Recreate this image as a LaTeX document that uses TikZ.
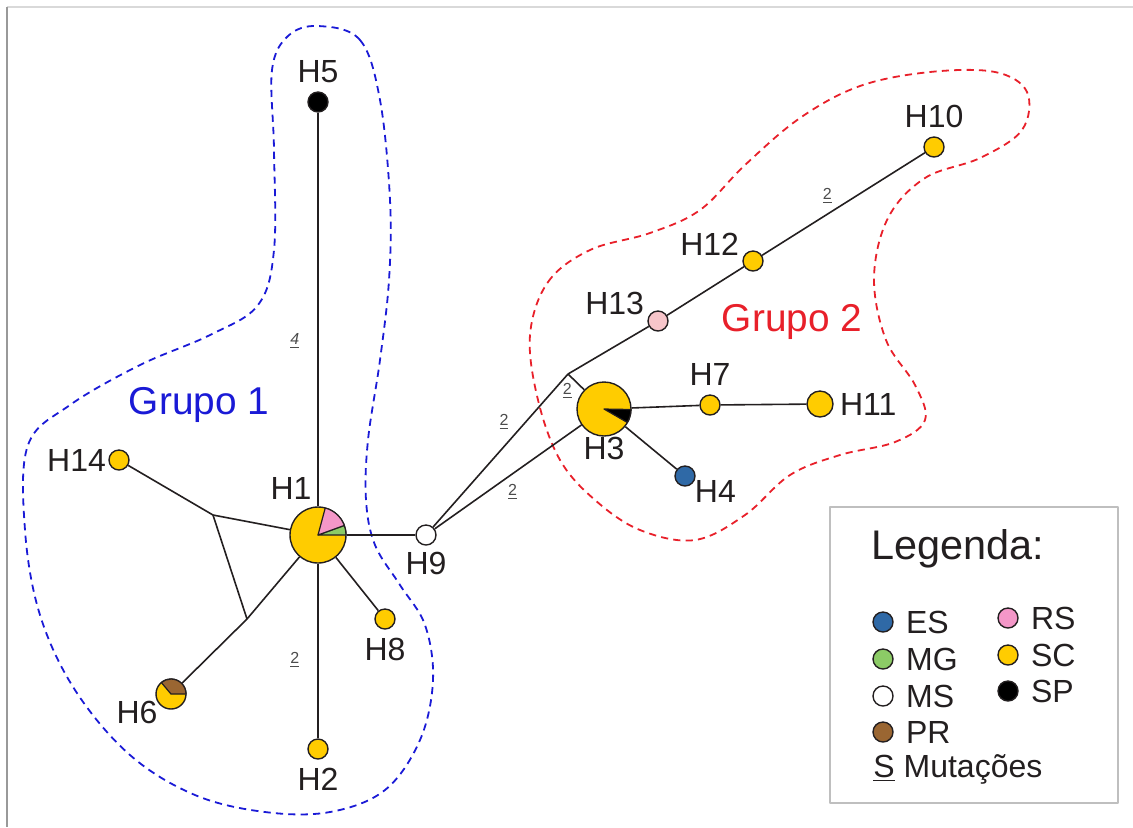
\documentclass[tikz,border=0pt]{standalone}
\usepackage{fontspec}
\setmainfont{Liberation Sans}
\usetikzlibrary{positioning}
\definecolor{colSC}{HTML}{FFCC00}
\definecolor{colES}{HTML}{2F69A6}
\definecolor{colMG}{HTML}{8CCB66}
\definecolor{colPR}{HTML}{9A6632}
\definecolor{colRS}{HTML}{F497C8}
\definecolor{colLRS}{HTML}{F7C5CA}
\definecolor{txt}{HTML}{231F20}
\definecolor{grpblue}{HTML}{1A1AD6}
\definecolor{grpred}{HTML}{E8202A}
\tikzset{
  hap/.style={circle,draw=txt,line width=0.7pt,inner sep=0pt,minimum size=10pt,fill=colSC},
  wedge/.style={draw=txt,line width=0.6pt},
  lbl/.style={font=\fontsize{16}{16}\selectfont,text=txt,inner sep=1pt},
  mut/.style={font=\fontsize{8}{8}\selectfont,text=black!70,inner sep=1pt},
  link/.style={line width=0.8pt,draw=txt},
  grp/.style={line width=0.9pt,dash pattern=on 3.6pt off 2.6pt},
}
\newcommand{\mutn}[1]{\underline{#1}}
\begin{document}
\begin{tikzpicture}[x=0.5pt,y=-0.5pt,line join=round]
\useasboundingbox (0,0) rectangle (1133,827);
% frame of the figure
\draw[black!15,line width=0.8pt] (7,7) -- (1133,7);
\draw[black!40,line width=0.8pt] (7,7) -- (7,827);
%%%%%%%%%%%%%%% groups
\draw[grp,grpblue] plot[smooth cycle,tension=0.6] coordinates {
  (318,26) (360,40) (380,100) (390,200) (389,280) (380,360) (368,440)
  (366,500) (375,545) (400,585) (425,625) (433,680) (420,740) (385,790)
  (330,812) (265,812) (195,795) (130,755) (75,690) (40,615) (25,530)
  (28,445) (70,405) (140,365) (210,335) (258,305) (274,250) (274,150)
  (272,70) (288,36)};
\draw[grp,grpred] plot[smooth cycle,tension=0.6] coordinates {
  (530,335) (548,282) (590,250) (650,233) (700,210) (745,165) (800,118)
  (860,86) (930,72) (995,72) (1027,92) (1022,130) (980,158) (925,178)
  (888,218) (874,278) (886,340) (915,385) (925,420) (895,442) (840,455)
  (790,475) (745,515) (695,540) (640,530) (595,500) (560,460) (538,400)};
\node[text=grpblue,font=\fontsize{19.4}{20}\selectfont] (g1) at (199,405) {Grupo 1};
\node[text=grpred,font=\fontsize{19.4}{20}\selectfont] (g2) at (792,322) {Grupo 2};
%%%%%%%%%%%%%%% haplotypes
\node[hap,minimum size=28pt] (H1) at (318,535) {};
\node[hap,minimum size=27pt] (H3) at (604,409) {};
\node[hap,minimum size=15pt] (H6) at (171,694) {};
\node[hap] (H2) at (318,749) {};
\node[hap,fill=colES] (H4) at (685,476) {};
\node[hap,fill=black] (H5) at (318,102) {};
\node[hap] (H7) at (710,405) {};
\node[hap] (H8) at (385,619) {};
\node[hap,fill=white] (H9) at (426,535) {};
\node[hap] (H10) at (934,147) {};
\node[hap,minimum size=13pt] (H11) at (820,404) {};
\node[hap] (H12) at (753,261) {};
\node[hap,fill=colLRS] (H13) at (658,321) {};
\node[hap] (H14) at (119,460) {};
\coordinate (J1) at (213,515);
\coordinate (J2) at (247,619);
\coordinate (J3) at (568,374);
%%%%%%%%%%%%%%% pies
\filldraw[wedge,fill=colMG] (H1.center) -- ++(0:14pt) arc[start angle=0,end angle=20,radius=14pt] -- cycle;
\filldraw[wedge,fill=colRS] (H1.center) -- ++(20:14pt) arc[start angle=20,end angle=75,radius=14pt] -- cycle;
\filldraw[wedge,fill=black] (H3.center) -- ++(-30:13.5pt) arc[start angle=-30,end angle=-1,radius=13.5pt] -- cycle;
\filldraw[wedge,fill=colPR] (H6.center) -- ++(0:7.5pt) arc[start angle=0,end angle=130,radius=7.5pt] -- cycle;
%%%%%%%%%%%%%%% links
\draw[link] (H1) -- node[mut,left=8pt,pos=0.42] (m1) {\mutn{\textit{4}}} (H5);
\draw[link] (H1) -- node[mut,left=8pt,pos=0.55] (m2) {\mutn{2}} (H2);
\draw[link] (H1) -- (H8);
\draw[link] (H1) -- (H9);
\draw[link] (H1) -- (J1);
\draw[link] (J1) -- (H14);
\draw[link] (J1) -- (J2);
\draw[link] (H1) -- (J2) -- (H6);
\draw[link] (H9) -- node[mut,above left=2pt,pos=0.6] (m3) {\mutn{2}} (J3);
\draw[link] (H9) -- node[mut,below=4pt,pos=0.53] (m4) {\mutn{2}} (H3);
\draw[link] (J3) -- node[mut,below left=0pt,pos=0.4] (m5) {\mutn{2}} (H3);
\draw[link] (J3) -- (H13);
\draw[link] (H13) -- (H12);
\draw[link] (H12) -- node[mut,above=4pt,pos=0.4] (m6) {\mutn{2}} (H10);
\draw[link] (H3) -- (H7);
\draw[link] (H7) -- (H11);
\draw[link] (H3) -- (H4);
%%%%%%%%%%%%%%% labels
\node[lbl,above=3pt of H5] (l5) {H5};
\node[lbl] (l1) at (291,488) {H1};
\node[lbl,below=2pt of H9] (l9) {H9};
\node[lbl,below=-1pt of H3] (l3) {H3};
\node[lbl,below right=-3pt and 0pt of H4] (l4) {H4};
\node[lbl,above=3pt of H7] (l7) {H7};
\node[lbl,right=2pt of H11] (l11) {H11};
\node[lbl,above left=-2pt and 2pt of H13] (l13) {H13};
\node[lbl,above left=-2pt and 2pt of H12] (l12) {H12};
\node[lbl,above=3pt of H10] (l10) {H10};
\node[lbl,left=0pt of H14] (l14) {H14};
\node[lbl,below left=-3pt and 0pt of H6] (l6) {H6};
\node[lbl,below=3pt of H8] (l8) {H8};
\node[lbl,below=3pt of H2] (l2) {H2};
%%%%%%%%%%%%%%% legend
\draw[black!25,line width=0.6pt] (830,507) rectangle (1118,803);
\node[lbl,anchor=west,font=\fontsize{20.7}{21}\selectfont] (leg) at (869,549) {Legenda:};
\node[hap,fill=colES] (kES) at (883,622) {};
\node[hap,fill=colMG] (kMG) at (883,659) {};
\node[hap,fill=white] (kMS) at (883,696) {};
\node[hap,fill=colPR] (kPR) at (883,732) {};
\node[hap,fill=colRS] (kRS) at (1008,618) {};
\node[hap,fill=colSC] (kSC) at (1008,655) {};
\node[hap,fill=black] (kSP) at (1008,691) {};
\node[lbl,right=5pt of kES] (tES) {ES};
\node[lbl,right=5pt of kMG] (tMG) {MG};
\node[lbl,right=5pt of kMS] (tMS) {MS};
\node[lbl,right=5pt of kPR] (tPR) {PR};
\node[lbl,right=5pt of kRS] (tRS) {RS};
\node[lbl,right=5pt of kSC] (tSC) {SC};
\node[lbl,right=5pt of kSP] (tSP) {SP};
\node[lbl,anchor=west] (tMut) at (871,769) {\underline{S} Mutações};
\end{tikzpicture}
\end{document}
